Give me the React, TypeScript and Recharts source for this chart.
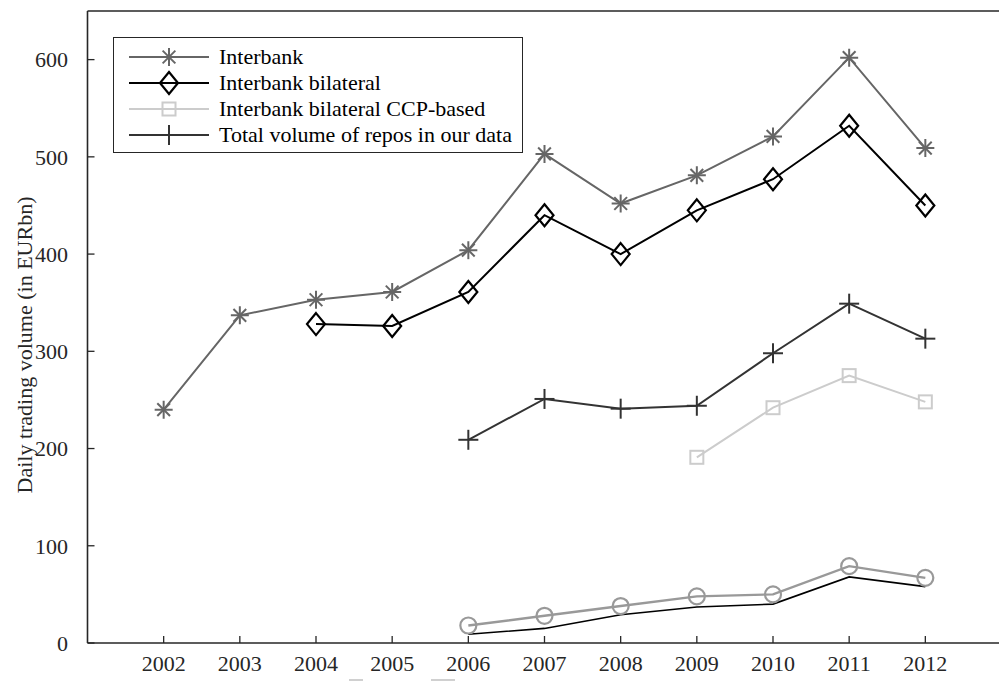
import React from 'react'
import { LineChart, Line, XAxis, YAxis, Legend } from 'recharts'

// values (EUR bn per day)
const years = [2002, 2003, 2004, 2005, 2006, 2007, 2008, 2009, 2010, 2011, 2012]
const interbank = [240, 337, 353, 361, 404, 503, 452, 481, 521, 602, 509]
const interbankBilateral = [null, null, 328, 326, 361, 440, 400, 445, 477, 532, 450]
const ccpBased = [null, null, null, null, null, null, null, 191, 242, 275, 248]
const totalRepos = [null, null, null, null, 209, 251, 241, 244, 298, 349, 313]
const circleSeries = [null, null, null, null, 18, 28, 38, 48, 50, 79, 67]
const thinSeries = [null, null, null, null, 9, 15, 29, 37, 40, 68, 58]
const yTicks = [0, 100, 200, 300, 400, 500, 600]

const data = years.map((year, i) => ({
  year,
  interbank: interbank[i],
  bilateral: interbankBilateral[i],
  ccp: ccpBased[i],
  total: totalRepos[i],
  circles: circleSeries[i],
  thin: thinSeries[i],
}))

const FONT = '"Liberation Serif", "Times New Roman", serif'
const AXIS = '#262626'
const FS = 22

type Kind = 'star' | 'diamond' | 'square' | 'plus' | 'circle'

const drawMarker = (kind: Kind, color: string, cx: number, cy: number, key?: any) => {
  if (kind === 'star') {
    const r = 9
    const d = r * 0.7071
    return (
      <g key={key} stroke={color} strokeWidth={2}>
        <line x1={cx - r} y1={cy} x2={cx + r} y2={cy} />
        <line x1={cx} y1={cy - r} x2={cx} y2={cy + r} />
        <line x1={cx - d} y1={cy - d} x2={cx + d} y2={cy + d} />
        <line x1={cx - d} y1={cy + d} x2={cx + d} y2={cy - d} />
      </g>
    )
  }
  if (kind === 'diamond') {
    return (
      <polygon
        key={key}
        points={`${cx},${cy - 11} ${cx + 9},${cy} ${cx},${cy + 11} ${cx - 9},${cy}`}
        fill="none"
        stroke={color}
        strokeWidth={2.2}
      />
    )
  }
  if (kind === 'square') {
    return <rect key={key} x={cx - 6.5} y={cy - 6.5} width={13} height={13} fill="none" stroke={color} strokeWidth={2} />
  }
  if (kind === 'plus') {
    return (
      <g key={key} stroke={color} strokeWidth={2}>
        <line x1={cx - 10} y1={cy} x2={cx + 10} y2={cy} />
        <line x1={cx} y1={cy - 10} x2={cx} y2={cy + 10} />
      </g>
    )
  }
  return <circle key={key} cx={cx} cy={cy} r={8} fill="none" stroke={color} strokeWidth={2.2} />
}

const markerDot = (kind: Kind, color: string) => (props: any) => {
  const { cx, cy, key } = props
  if (cx == null || cy == null || props.value == null) return <g key={key} />
  return drawMarker(kind, color, cx, cy, key)
}

const legendRows: { key: string; kind: Kind; color: string }[] = [
  { key: 'interbank', kind: 'star', color: '#666666' },
  { key: 'bilateral', kind: 'diamond', color: '#000000' },
  { key: 'ccp', kind: 'square', color: '#cccccc' },
  { key: 'total', kind: 'plus', color: '#333333' },
]

const LegendBox = (props: any) => {
  const payload = props.payload || []
  return (
    <div
      style={{
        border: `1.5px solid ${AXIS}`,
        background: '#fff',
        width: 410,
        height: 116,
        boxSizing: 'border-box',
        paddingTop: 6,
        fontFamily: FONT,
        fontSize: FS,
        color: '#000',
        textAlign: 'left',
      }}
    >
      {payload.map((entry: any) => {
        const row = legendRows.find((r) => r.key === entry.dataKey)
        if (!row) return null
        return (
          <div key={row.key} style={{ display: 'flex', alignItems: 'center', height: 26 }}>
            <svg width={104} height={26} style={{ flex: 'none' }}>
              <line x1={15} y1={13} x2={95} y2={13} stroke={row.color} strokeWidth={2} />
              {drawMarker(row.kind, row.color, 55, 13)}
            </svg>
            <span style={{ marginLeft: 1, whiteSpace: 'nowrap', lineHeight: '26px' }}>{entry.value}</span>
          </div>
        )
      })}
    </div>
  )
}

const YLabel = () => (
  <text
    x={32}
    y={345}
    transform="rotate(-90, 32, 345)"
    textAnchor="middle"
    fontFamily={FONT}
    fontSize={FS}
    fill="#262626"
  >
    Daily trading volume (in EURbn)
  </text>
)

export default function App() {
  const tickStyle = { fontFamily: FONT, fontSize: FS, fill: '#262626' }
  return (
    <div
      style={{
        position: 'absolute',
        left: 0,
        top: 0,
        width: 999,
        height: 681,
        overflow: 'hidden',
        background: '#fff',
      }}
    >
      <LineChart width={1012} height={681} data={data} margin={{ top: 10, right: 9.5, bottom: 0, left: 0 }}>
        <XAxis
          dataKey="year"
          type="number"
          domain={[2001, 2013]}
          ticks={years}
          allowDataOverflow
          height={38}
          tickSize={-7}
          tickMargin={19}
          tick={tickStyle}
          axisLine={{ stroke: AXIS, strokeWidth: 1.6 }}
          tickLine={{ stroke: AXIS, strokeWidth: 1.3 }}
        />
        <XAxis
          xAxisId="top"
          orientation="top"
          dataKey="year"
          type="number"
          domain={[2001, 2013]}
          ticks={years}
          allowDataOverflow
          height={1}
          tickSize={-7}
          tick={false}
          axisLine={{ stroke: AXIS, strokeWidth: 1.6 }}
          tickLine={{ stroke: AXIS, strokeWidth: 1.3 }}
        />
        <YAxis
          type="number"
          domain={[0, 650]}
          ticks={yTicks}
          allowDataOverflow
          width={87.5}
          tickSize={-7}
          tickMargin={26.5}
          tick={tickStyle}
          axisLine={{ stroke: AXIS, strokeWidth: 1.6 }}
          tickLine={{ stroke: AXIS, strokeWidth: 1.3 }}
          label={<YLabel />}
        />
        <YAxis
          yAxisId="right"
          orientation="right"
          type="number"
          domain={[0, 650]}
          ticks={yTicks}
          allowDataOverflow
          width={1}
          tickSize={-7}
          tick={false}
          axisLine={{ stroke: AXIS, strokeWidth: 1.6 }}
          tickLine={{ stroke: AXIS, strokeWidth: 1.3 }}
        />
        <Legend
          content={<LegendBox />}
          layout="horizontal"
          verticalAlign="middle"
          align="center"
          wrapperStyle={{ left: 113, top: 37, width: 'auto' }}
        />
        <Line
          dataKey="thin"
          stroke="#000"
          strokeWidth={1.6}
          dot={false}
          legendType="none"
          isAnimationActive={false}
        />
        <Line
          dataKey="circles"
          stroke="#999999"
          strokeWidth={2.4}
          dot={markerDot('circle', '#999999')}
          legendType="none"
          isAnimationActive={false}
        />
        <Line
          dataKey="interbank"
          name="Interbank"
          stroke="#666666"
          strokeWidth={2}
          dot={markerDot('star', '#666666')}
          isAnimationActive={false}
        />
        <Line
          dataKey="bilateral"
          name="Interbank bilateral"
          stroke="#000000"
          strokeWidth={2}
          dot={markerDot('diamond', '#000000')}
          isAnimationActive={false}
        />
        <Line
          dataKey="ccp"
          name="Interbank bilateral CCP-based"
          stroke="#cccccc"
          strokeWidth={2}
          dot={markerDot('square', '#cccccc')}
          isAnimationActive={false}
        />
        <Line
          dataKey="total"
          name="Total volume of repos in our data"
          stroke="#333333"
          strokeWidth={2}
          dot={markerDot('plus', '#333333')}
          isAnimationActive={false}
        />
      </LineChart>
      {/* stray light marks below the axis labels in the original */}
      <div style={{ position: 'absolute', left: 349, top: 679, width: 14, height: 1.5, background: '#d0d0d0' }} />
      <div style={{ position: 'absolute', left: 431, top: 679, width: 24, height: 1.5, background: '#d0d0d0' }} />
    </div>
  )
}
